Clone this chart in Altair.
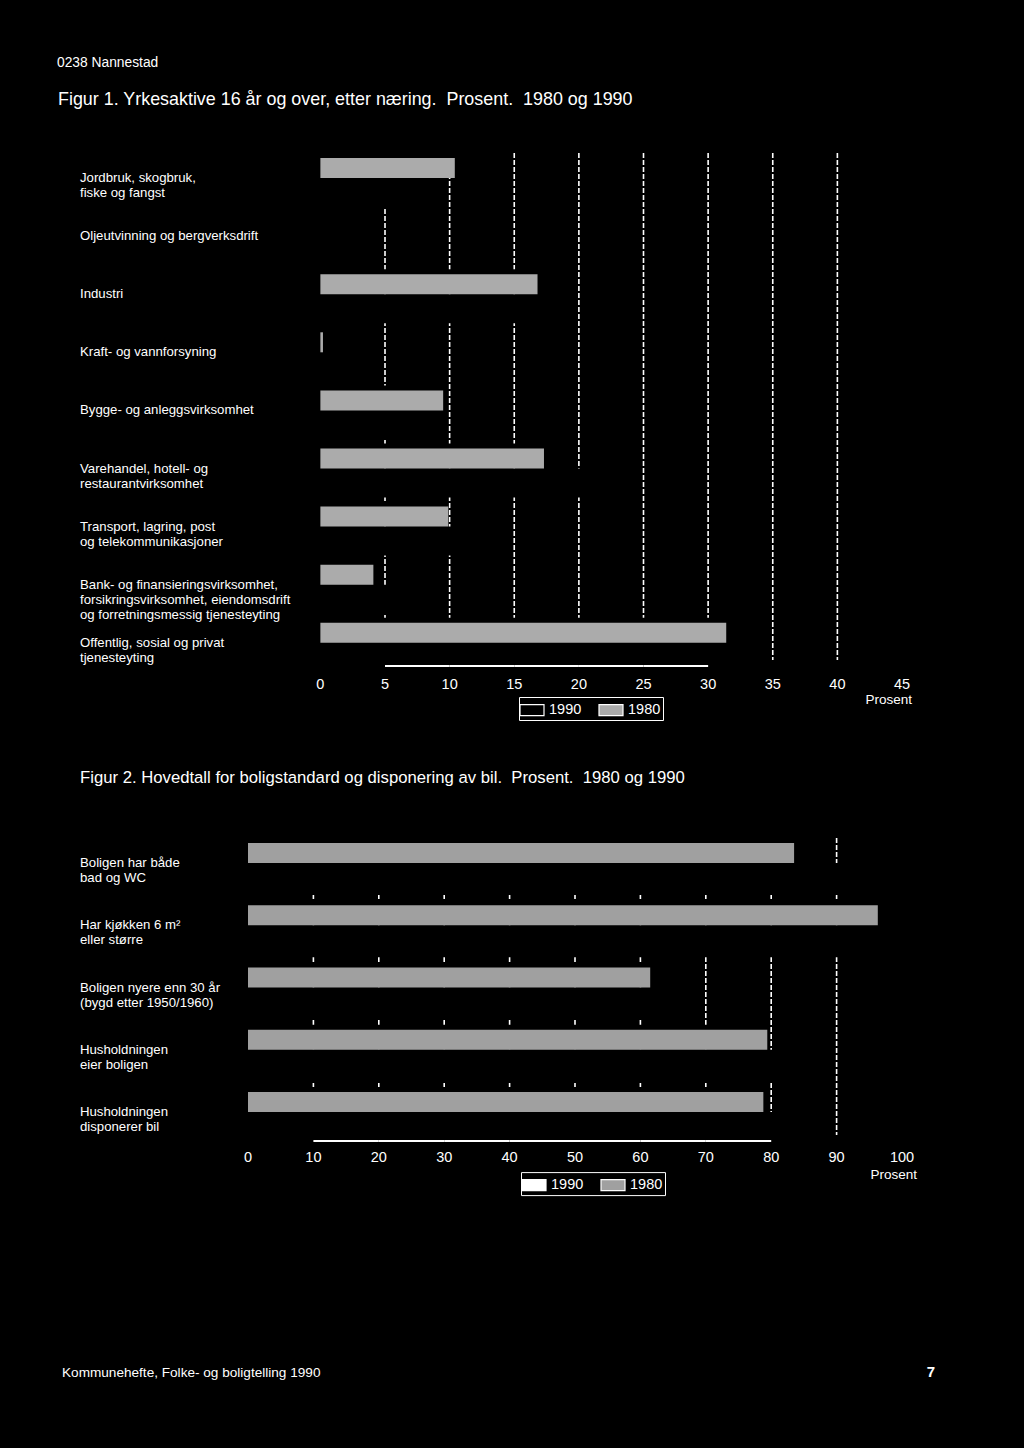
import altair as alt
import pandas as pd

FONT = "Liberation Sans"
WHITE = "#ffffff"

# ---------------- data: figure 1 ----------------
fig1_categories = [
    "Jordbruk, skogbruk,\nfiske og fangst",
    "Oljeutvinning og bergverksdrift",
    "Industri",
    "Kraft- og vannforsyning",
    "Bygge- og anleggsvirksomhet",
    "Varehandel, hotell- og\nrestaurantvirksomhet",
    "Transport, lagring, post\nog telekommunikasjoner",
    "Bank- og finansieringsvirksomhet,\nforsikringsvirksomhet, eiendomsdrift\nog forretningsmessig tjenesteyting",
    "Offentlig, sosial og privat\ntjenesteyting",
]
fig1_1980 = [10.4, 0.0, 16.8, 0.2, 9.5, 17.3, 9.9, 4.1, 31.4]
fig1_1990 = [9.8, 0.0, 15.2, 0.3, 8.0, 21.0, 12.0, 7.0, 33.0]
fig1_ticks = [0, 5, 10, 15, 20, 25, 30, 35, 40, 45]
fig1_grid = [5, 10, 15, 20, 25, 30, 35, 40]
fig1_baseline_ticks = [5, 10, 15, 20, 25, 30]

# ---------------- data: figure 2 ----------------
fig2_categories = [
    "Boligen har både\nbad og WC",
    "Har kjøkken 6 m²\neller større",
    "Boligen nyere enn 30 år\n(bygd etter 1950/1960)",
    "Husholdningen\neier boligen",
    "Husholdningen\ndisponerer bil",
]
fig2_1980 = [83.5, 96.3, 61.5, 79.4, 78.8]
fig2_1990 = [95.0, 97.0, 66.0, 85.0, 83.0]
fig2_ticks = [0, 10, 20, 30, 40, 50, 60, 70, 80, 90, 100]
fig2_grid = [10, 20, 30, 40, 50, 60, 70, 80, 90]
fig2_baseline_ticks = [10, 20, 30, 40, 50, 60, 70, 80]

years = ["1990", "1980"]

header_text = "0238 Nannestad"
fig1_title = "Figur 1. Yrkesaktive 16 år og over, etter næring.\u00a0 Prosent.\u00a0 1980 og 1990"
fig2_title = "Figur 2. Hovedtall for boligstandard og disponering av bil.\u00a0 Prosent.\u00a0 1980 og 1990"
footer_text = "Kommunehefte, Folke- og boligtelling 1990"
page_number = "7"
unit_text = "Prosent"

RECT_SYMBOL = "M-1.2,-0.55H1.2V0.55H-1.2Z"


def text_layer(s, x, y, align="left", baseline="middle", size=13, weight="normal"):
    return alt.Chart(pd.DataFrame({"s": [s]})).mark_text(
        align=align, baseline=baseline, font=FONT, fontSize=size,
        fontWeight=weight, color=WHITE
    ).encode(x=alt.value(x), y=alt.value(y), text="s:N")


def build(cats, v1980, v1990, ticks, grid, base_ticks, domain, width, step,
          bar90_h, grid_len, base_y, tick_y, unit_x, unit_y, legend_x, legend_y,
          color1990, hatch, extra):
    n = len(cats)
    height = n * step
    half = step / 2.0
    xs = alt.Scale(domain=domain, nice=False, zero=False)
    ys = alt.Scale(domain=cats, paddingInner=0, paddingOuter=0)
    Y = alt.Y("cat:N", scale=ys, axis=None, sort=cats)
    df = pd.DataFrame({"cat": cats, "v1980": v1980, "v1990": v1990})
    base = alt.Chart(df)

    gridlines = alt.Chart(pd.DataFrame({"g": grid})).mark_rule(
        color=WHITE, strokeWidth=1.6, strokeDash=[5, 2]
    ).encode(x=alt.X("g:Q", scale=xs, axis=None),
             y=alt.value(0), y2=alt.value(grid_len))

    halo = base.mark_bar(color="black", size=25, yOffset=12.5 - half).encode(
        x=alt.X("v1980:Q", scale=xs, axis=None), x2=alt.datum(0), y=Y)

    bars90 = base.mark_bar(color="black", size=bar90_h,
                           yOffset=25 + bar90_h / 2.0 - half).encode(
        x=alt.X("v1990:Q", scale=xs, axis=None), x2=alt.datum(0), y=Y)

    bars80 = base.transform_calculate(year="'1980'").mark_bar(
        size=20, yOffset=15 - half).encode(
        x=alt.X("v1980:Q", scale=xs, axis=None), x2=alt.datum(0), y=Y,
        color=alt.Color("year:N",
                        scale=alt.Scale(domain=years, range=[color1990, hatch]),
                        legend=alt.Legend(
                            orient="none", legendX=legend_x, legendY=legend_y,
                            direction="horizontal", title=None,
                            symbolType=RECT_SYMBOL, symbolSize=400,
                            symbolStrokeColor=WHITE, symbolStrokeWidth=1.2,
                            symbolOpacity=1, labelColor=WHITE, labelFont=FONT,
                            labelFontSize=14.5, labelOffset=6, columnPadding=14,
                            strokeColor=WHITE, fillColor="black", padding=2)))

    labels = base.mark_text(align="left", baseline="middle", lineBreak="\n",
                            font=FONT, fontSize=13.2, lineHeight=15, color=WHITE,
                            yOffset=25 - half).encode(
        x=alt.value(-168), y=Y, text="cat:N")

    tick_labels = alt.Chart(pd.DataFrame({"t": ticks})).mark_text(
        align="center", baseline="middle", font=FONT, fontSize=14.5, color=WHITE
    ).encode(x=alt.X("t:Q", scale=xs, axis=None), y=alt.value(tick_y),
             text=alt.Text("t:Q", format="d"))

    seg = pd.DataFrame({"a": base_ticks[:-1], "b": base_ticks[1:]})
    baseline = alt.Chart(seg).mark_rule(color=WHITE, strokeWidth=2).encode(
        x=alt.X("a:Q", scale=xs, axis=None), x2="b:Q", y=alt.value(base_y))

    unit = text_layer(unit_text, unit_x, unit_y, align="right", size=13.5)

    layers = [gridlines, halo, bars90, bars80, labels, tick_labels, baseline, unit] + extra
    return alt.layer(*layers).properties(width=width, height=height)


fig1 = build(
    fig1_categories, fig1_1980, fig1_1990, fig1_ticks, fig1_grid, fig1_baseline_ticks,
    domain=[-5.6, 45], width=654, step=58.1, bar90_h=29, grid_len=507,
    base_y=513, tick_y=532, unit_x=664, unit_y=547, legend_x=271, legend_y=544,
    color1990="black", hatch="#ababab",
    extra=[
        text_layer(header_text, -191, -96.6, baseline="top", size=13.8),
        text_layer(fig1_title, -190, -53, size=17.9),
    ],
)

fig2 = build(
    fig2_categories, fig2_1980, fig2_1990, fig2_ticks, fig2_grid, fig2_baseline_ticks,
    domain=[0, 100], width=654, step=62.25, bar90_h=32, grid_len=297,
    base_y=303, tick_y=320, unit_x=669, unit_y=337, legend_x=273, legend_y=334,
    color1990="white", hatch="#a0a0a0",
    extra=[
        text_layer(fig2_title, -168, -60, size=16.7),
        text_layer(footer_text, -186, 541.4, baseline="bottom", size=13.6),
        text_layer(page_number, 687, 541.4, align="right", baseline="bottom",
                   size=15, weight="bold"),
    ],
)

chart = alt.vconcat(fig1, fig2, spacing=162.1, bounds="flush").resolve_scale(
    x="independent", y="independent", color="independent"
).resolve_legend(color="independent").properties(
    padding={"left": 57, "top": 56, "right": 89, "bottom": 68},
    background="black",
).configure_view(stroke=None)

chart.save("out.html", embed_options={"renderer": "svg", "actions": False})
